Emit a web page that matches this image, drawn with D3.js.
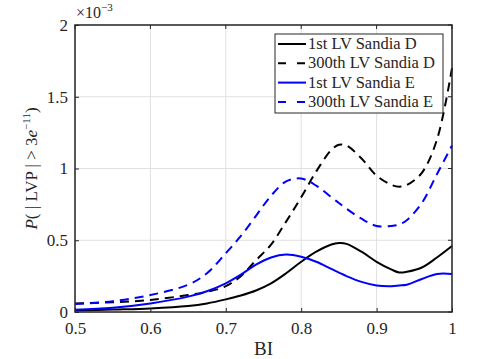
<!DOCTYPE html>
<html>
<head>
<meta charset="utf-8">
<script src="https://cdn.jsdelivr.net/npm/d3@7"></script>
<style>
  body { margin: 0; background: #fff; }
  text { font-family: "Liberation Serif", "DejaVu Serif", serif; fill: #262626; }
</style>
</head>
<body>
<svg id="chart"></svg>
<script>
const width = 479, height = 359;
const margin = {top: 25, right: 27, bottom: 47, left: 75};

// values in units of 1e-3
const bi = [0.5, 0.55, 0.6, 0.65, 0.675, 0.7, 0.72, 0.74, 0.76, 0.78, 0.8, 0.82, 0.84, 0.85, 0.86, 0.88, 0.9, 0.92, 0.93, 0.94, 0.96, 0.98, 1.0];
const lv1D   = [0.01, 0.017, 0.025, 0.042, 0.06, 0.088, 0.115, 0.15, 0.2, 0.27, 0.35, 0.42, 0.47, 0.48, 0.475, 0.42, 0.35, 0.295, 0.275, 0.28, 0.31, 0.38, 0.46];
const lv300D = [0.06, 0.068, 0.084, 0.118, 0.14, 0.18, 0.25, 0.36, 0.47, 0.63, 0.8, 0.98, 1.13, 1.165, 1.16, 1.07, 0.95, 0.885, 0.873, 0.885, 0.97, 1.2, 1.7];
const lv1E   = [0.015, 0.03, 0.06, 0.107, 0.145, 0.2, 0.26, 0.33, 0.38, 0.4, 0.385, 0.35, 0.3, 0.275, 0.25, 0.21, 0.185, 0.18, 0.185, 0.19, 0.23, 0.265, 0.265];
const lv300E = [0.055, 0.075, 0.118, 0.19, 0.27, 0.41, 0.53, 0.67, 0.81, 0.91, 0.93, 0.88, 0.8, 0.76, 0.72, 0.65, 0.6, 0.6, 0.61, 0.64, 0.76, 0.96, 1.16];

const xTicks = [0.5, 0.6, 0.7, 0.8, 0.9, 1];
const yTicks = [0, 0.5, 1, 1.5, 2];

const series = [
  {name: "1st LV Sandia D", values: lv1D, color: "#000000", dash: null},
  {name: "300th LV Sandia D", values: lv300D, color: "#000000", dash: "9,6"},
  {name: "1st LV Sandia E", values: lv1E, color: "#0000ff", dash: null},
  {name: "300th LV Sandia E", values: lv300E, color: "#0000ff", dash: "9,6"}
];

const svg = d3.select("#chart").attr("width", width).attr("height", height);

const x = d3.scaleLinear().domain([0.5, 1]).range([margin.left, width - margin.right]);
const y = d3.scaleLinear().domain([0, 2]).range([height - margin.bottom, margin.top]);

// grid
svg.append("g").selectAll("line").data(xTicks).enter().append("line")
  .attr("x1", d => x(d)).attr("x2", d => x(d))
  .attr("y1", y(0)).attr("y2", y(2))
  .attr("stroke", "#e0e0e0").attr("stroke-width", 1);
svg.append("g").selectAll("line").data(yTicks).enter().append("line")
  .attr("y1", d => y(d)).attr("y2", d => y(d))
  .attr("x1", x(0.5)).attr("x2", x(1))
  .attr("stroke", "#e0e0e0").attr("stroke-width", 1);

// curves
const line = d3.line()
  .x((d, i) => x(bi[i]))
  .y(d => y(d))
  .curve(d3.curveCatmullRom.alpha(0.5));

svg.append("g").selectAll("path").data(series).enter().append("path")
  .attr("d", d => line(d.values))
  .attr("fill", "none")
  .attr("stroke", d => d.color)
  .attr("stroke-width", 2)
  .attr("stroke-dasharray", d => d.dash);

// axes (ticks inward)
const xAxis = svg.append("g").attr("transform", `translate(0,${y(0)})`)
  .call(d3.axisBottom(x).tickValues(xTicks).tickSizeInner(-4).tickSizeOuter(0).tickPadding(10).tickFormat(d3.format("")));
const yAxis = svg.append("g").attr("transform", `translate(${x(0.5)},0)`)
  .call(d3.axisLeft(y).tickValues(yTicks).tickSizeInner(-4).tickSizeOuter(0).tickPadding(7).tickFormat(d3.format("")));
[xAxis, yAxis].forEach(a => {
  a.select(".domain").remove();
  a.selectAll("line").attr("stroke", "#262626");
  a.selectAll("text").style("font-size", "17px").attr("fill", "#262626")
    .style("font-family", "'Liberation Serif', serif");
});
// top/right inward ticks
svg.append("g").selectAll("line").data(xTicks).enter().append("line")
  .attr("x1", d => x(d)).attr("x2", d => x(d))
  .attr("y1", y(2)).attr("y2", y(2) + 4).attr("stroke", "#262626");
svg.append("g").selectAll("line").data(yTicks).enter().append("line")
  .attr("x1", x(1)).attr("x2", x(1) - 4)
  .attr("y1", d => y(d)).attr("y2", d => y(d)).attr("stroke", "#262626");

// box
svg.append("rect")
  .attr("x", x(0.5)).attr("y", y(2))
  .attr("width", x(1) - x(0.5)).attr("height", y(0) - y(2))
  .attr("fill", "none").attr("stroke", "#262626").attr("stroke-width", 1.5);

// exponent label
const ex = svg.append("text").attr("x", x(0.5) + 1).attr("y", 18).style("font-size", "16px");
ex.append("tspan").text("\u00d710");
ex.append("tspan").attr("dy", -7).style("font-size", "11px").text("\u22123");

// x label
svg.append("text").attr("x", (x(0.5) + x(1)) / 2).attr("y", 355)
  .attr("text-anchor", "middle").style("font-size", "19px").text("BI");

// y label
const yl = svg.append("text")
  .attr("transform", `translate(37,${(y(0) + y(2)) / 2}) rotate(-90)`)
  .attr("text-anchor", "middle").style("font-size", "17px");
yl.append("tspan").style("font-style", "italic").text("P");
yl.append("tspan").text("( | LVP | > 3");
yl.append("tspan").style("font-style", "italic").text("e");
yl.append("tspan").attr("dy", -7).style("font-size", "11px").text("\u221211");
yl.append("tspan").attr("dy", 7).text(")");

// legend
const lg = svg.append("g").attr("transform", "translate(275,34)");
lg.append("rect").attr("width", 168).attr("height", 79)
  .attr("fill", "#fff").attr("stroke", "#262626").attr("stroke-width", 1);
const rows = lg.selectAll("g.row").data(series).enter().append("g")
  .attr("transform", (d, i) => `translate(0,${10 + i * 19.3})`);
rows.append("line").attr("x1", 3).attr("x2", 31)
  .attr("stroke", d => d.color).attr("stroke-width", 2)
  .attr("stroke-dasharray", d => d.dash ? "8,11" : null);
rows.append("text").attr("x", 33).attr("y", 5).style("font-size", "16.5px").attr("fill", "#000").text(d => d.name);
</script>
</body>
</html>
